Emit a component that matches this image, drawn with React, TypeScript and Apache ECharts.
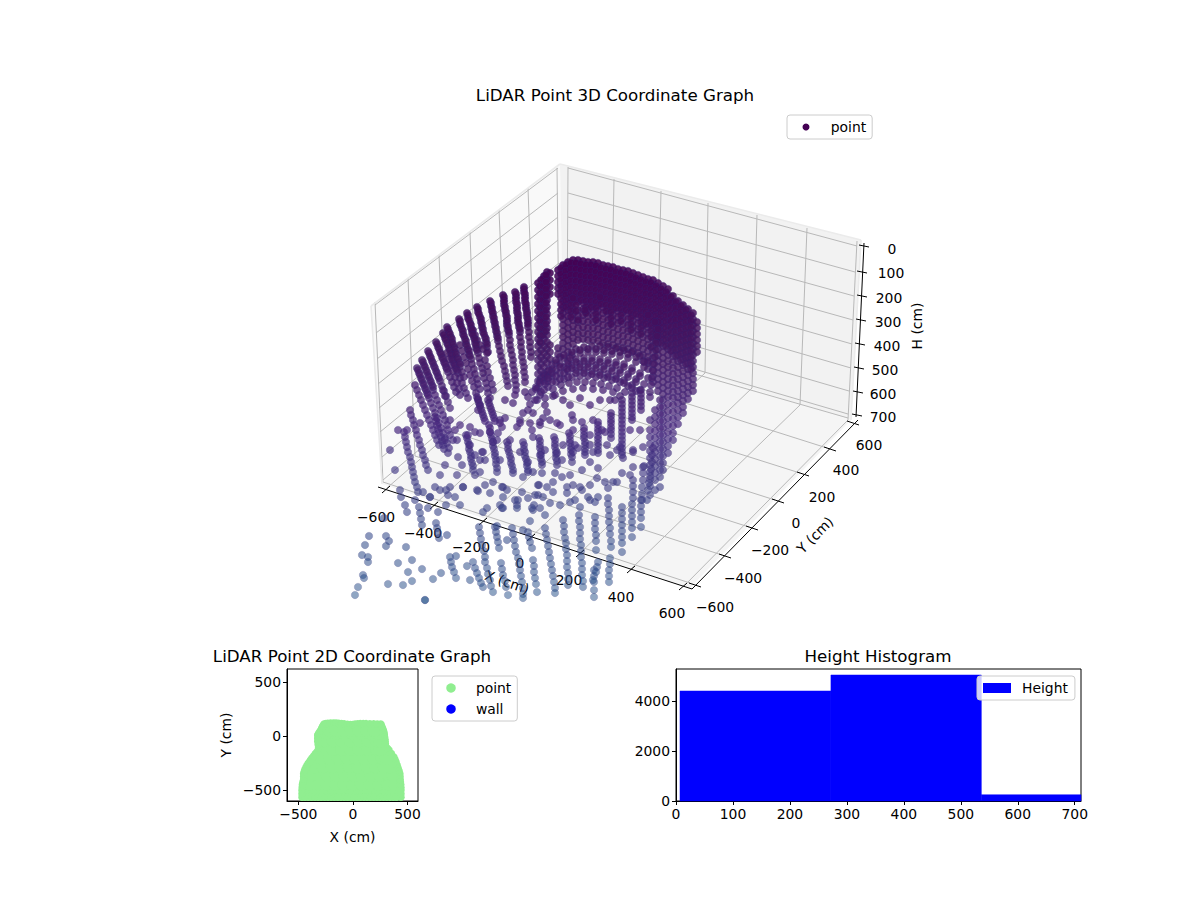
import { useEffect, useRef } from 'react';
import * as echarts from 'echarts';

// 3D panel: the picture is a projected view, so everything is kept in view coordinates
const leaningColumns: number[][] = [
  [417,368,419,373,421,378,423,383,425,388,427,393,429,398,431,403,433,408,435,413,437,418,439,423,441,428,443,433,445,438,447,443,449,448],
  [422,360,424,365,426,370,428,375,430,380,432,385,433,390,435,395,437,400,439,405,441,410,443,415,445,420,447,425,448,430,450,435],
  [415,385,417,390,419,395,421,400,423,405,425,410,427,415,429,420,431,425,433,430,435,435,437,440,439,445],
  [428,351,430,356,432,361,434,366,436,371,438,376,440,381,442,386,444,391,446,396],
  [436,342,438,347,440,352,442,357,444,362,446,367,448,372,450,377,452,382,454,387,456,392],
  [443,333,445,338,447,343,449,348,451,353,452,358,454,363,456,368,458,373,460,378,462,383,464,388,466,393,468,398],
  [447,327,449,332,451,337,452,342,454,347,455,352,457,357,459,362,460,367,462,372,464,377],
  [459,319,460,324,462,329,463,334,465,339,466,344,468,349,469,354,471,359,472,364,474,369,475,374,477,379,478,384,480,389],
  [467,313,468,318,470,323,471,328,472,333,474,338,475,343,476,348,478,353,479,358,480,363,482,368,483,373,484,378,486,383,487,388,488,393,490,398],
  [477,307,478,312,480,317,481,322,482,327,483,332,485,337,486,342,487,347,488,352],
  [490,301,491,306,492,311,493,316,494,321,495,326,496,331,497,336,498,341,499,346,500,351,501,356,502,361,504,366,505,371,506,376,507,381,508,386],
  [503,295,504,300,504,305,505,310,506,315,507,320,507,325,508,330,509,335,510,340,510,345,511,350,512,355,513,360,513,365,514,370,515,375,515,380,516,385,516,390],
  [515,292,516,297,516,302,517,307,517,312,518,317,518,322,519,327,520,332,520,337,521,342,521,347,522,352,522,357,523,362,524,367,524,372,525,377,525,382],
  [524,287,524,292,525,297,525,302,526,307,527,312,527,317,528,322,528,327,529,332,529,337,530,342,530,347,531,352,531,357],
  [485,360,487,366,488,372,490,378,492,384,493,390],
  [473,330,475,335,477,340,480,345,483,349,487,353],
  [447,353,449,359,451,365,453,371,455,377,457,383,459,389,460,395,443,390,445,396,448,402,450,408],
  [460,345,462,351,464,357,466,363,468,369,470,375,472,381,474,387,476,393,478,399,480,405],
  [404,432,405,437,406,442,407,447,408,452,410,457,411,462,412,467,413,472,414,477,415,482,417,487,418,492],
  [410,410,411,415,413,420,414,425,416,430,417,435,419,440,420,445,422,450,423,455,425,460,426,465,428,470],
  [435,417,436,421,437,425,438,429,439,433,441,437,442,441,443,445,444,449],
  [477,397,478,400,479,403,480,406,481,409,482,412,483,415,484,418,485,421],
  [488,400,489,403,490,406,491,409,492,412,493,415,494,418,495,421],
  [466,435,467,438,468,442,469,445,469,449,470,452,471,456,471,459,472,463,473,466,473,470],
  [489,425,490,428,490,432,491,435,492,439,493,442,493,446,494,449,495,453,495,456,496,460,496,464,497,468,497,472],
  [507,442,508,445,508,449,509,452,510,456,511,459,511,463,512,466,513,470,513,473],
  [523,442,524,445,524,449,525,452,525,456,526,459,527,463,527,466,528,470,528,472],
  [539,438,540,441,540,445,540,448,541,452,541,455,541,459,542,462,542,465],
  [554,437,555,440,555,444,555,447,556,451,556,454,556,458,557,461,557,465],
  [569,433,570,436,570,440,570,443,571,447,571,450,571,454,572,457,572,462],
  [584,428,584,431,584,435,584,438,585,442,585,445,585,449,585,452,585,455],
  [598,422,598,425,598,429,598,432,598,436,598,439,598,443,598,446,598,450,598,453],
  [611,413,611,416,611,420,611,423,611,427,611,430,611,434,611,438],
  [622,400,622,404,622,408,622,412,622,416,622,420,622,424,622,428,622,432,622,436,622,440,622,444,622,448,622,452,622,455],
  [632,393,632,397,632,401,632,405,632,409,632,413,632,417,632,420],
  [641,390,641,394,641,398,641,402,641,406,641,410],
  [419,507,420,513,421,519,422,525],
  [436,523,437,528,438,533,439,538],
  [479,527,480,533,481,539,482,545,484,551,485,557,485,562,487,568,488,574,490,580,491,586,493,592],
  [495,527,496,532,497,537,498,542,499,548],
  [512,528,513,534,514,540,515,546,516,552,518,558,519,564,520,570,521,576,522,582,523,588,523,594,523,598],
  [528,532,529,537,530,542,532,548],
  [533,560,534,566,534,572,535,578,536,584,537,592],
  [450,557,451,562,452,567,454,572,456,578],
  [473,562,475,568,477,573,479,578,481,583,483,587],
  [501,563,502,569,503,575,505,581,506,587,508,595],
  [545,528,546,534,547,540,548,546,549,552,550,558,551,564,552,570,553,576,554,582,555,588,555,593],
  [563,520,564,526,564,532,565,538],
  [566,543,566,549,567,555,567,561,567,567,568,573,568,579,568,585],
  [579,515,579,521,580,527,580,533,580,539,581,545,581,551,581,557,582,563,582,569,582,575,583,581,583,587],
  [595,517,595,523,595,529,596,535,596,541,596,550],
  [594,570,594,576,594,582,594,590,594,597],
  [608,498,608,504,609,510,609,516,609,522,610,528,610,534,611,541,611,547],
  [610,558,610,564,609,570,609,576,609,582],
  [622,507,622,513,622,519,622,525,622,531,622,537,622,543,622,552],
  [633,480,633,486,633,492,633,498,632,504,632,510,632,516,632,522,632,528,632,537],
  [641,500,641,506,641,512,641,518,641,527],
  [598,562,597,567,596,572,593,580],
  [653,448,652,455,652,462,651,469,650,476,649,483,648,490,647,500],
  [644,466,643,473,643,480,642,487,642,494,642,500],
  [658,322,658,329,657,336,656,343,656,350,655,357,654,364,653,371,652,378,651,385,650,392,650,397],
  // the denser upper stretch of the rim columns
  [418,370,420,375,422,380,424,385,426,390,428,395],
  [423,362,425,367,427,372,429,377,431,382,433,387],
  [429,353,431,358,433,363,435,368,437,373,439,378],
  [437,344,439,349,441,354,443,359,445,364,447,369],
  [444,335,446,340,448,345,450,350,452,355,453,360,455,365,457,370],
  [448,329,450,334,452,339,453,344,455,349,456,354,458,359,460,364],
  [460,321,461,326,463,331,464,336,466,341,467,346,469,351,470,356],
  [468,315,469,320,471,325,472,330,473,335,475,340,476,345,477,350],
  [478,309,479,314,481,319,482,324,483,329,484,334,486,339,487,344],
  [491,303,492,308,493,313,494,318,495,323,496,328,497,333,498,338],
  [504,297,504,302,505,307,506,312,507,317,507,322,508,327,509,332],
  [516,294,516,299,517,304,517,309,518,314,518,319,519,324,520,329],
  [524,289,525,294,525,299,526,304,526,309,527,314,528,319,528,324],
];

// near-vertical wall scans: the first number is x, the others are y
const wallColumns: number[][] = [
  [538,283,290,297,304,311,318,325,332,339,346,353,360,367,374,381,388],
  [541,280,287,294,301,308,315,322,329,336,343,350,357,364,371,378],
  [544,276,283,290,297,304,311,318,325,332,339,346,353,360,367,374],
  [547,272,279,286,293,300,307,314,321,328,335,342,349,356,363],
  [550,273,280,287,294,345,352,359],
  [558,270,276,282,288,294,348,354],
  [563,265,271,277,283,289,295,301,307,313,319,325,331,337,343,349],
  [568,262,268,274,280,286,292,298,304,310,316,322,328,334,340,346],
  [573,260,266,272,278,284,290,296,302,308,314,320,326,332,338,344],
  [578,260,266,272,278,284,290,296,302,310,316,322,328,334,340],
  [583,261,267,273,279,285,291,297,303,309,315,321,327,333,339],
  [588,262,268,274,280,286,292,298,304,310,316,322,328,334,340],
  [593,262,268,274,280,286,292,298,304,310,316,322,328,334,340],
  [598,263,269,275,281,287,293,299,305,311,317,323,329,335,341],
  [603,265,271,277,283,289,295,301,307,313,319,325,331,337,343],
  [608,266,272,278,284,290,296,302,308,314,320,326,332,338,344],
  [613,267,273,279,285,291,297,303,309,315,321,327,333,339,345],
  [618,269,275,281,287,293,299,305,311,317,323,329,335,341,347],
  [623,270,276,282,288,294,300,306,312,318,324,330,336,342,348],
  [628,271,277,283,289,295,301,307,313,319,325,331,337,343,349],
  [633,273,279,285,291,297,303,309,315,321,327,333,339,345,351],
  [638,275,281,287,293,299,305,311,317,323,329,335,341,347,353],
  [643,277,283,289,295,301,307,313,319,325,331,337,343,349,355,361],
  [648,279,285,291,297,303,309,315,321,327,333,339,345,351,357,363,369],
  [653,280,286,292,298,304,310,316,322,328,334,340,346,352,358,364,370,376,382],
  [658,283,289,295,301,307,313,319,325,331,337,343,349,355,361,367,373,379,385,391],
  [663,286,292,298,304,310,316,322,328,334,340,346,352,358,364,370,376,382,388,394,400,407,414,421,428,435,442,449,456,463,470],
  [668,289,295,301,307,313,319,325,331,337,343,349,355,361,367,373,379,385,391,397,404,411,418,425,432,439,446,453],
  [673,296,302,308,314,320,326,332,338,344,350,356,362,368,374,380,386,392,398,405,412,419,426,433,440],
  [678,301,307,313,319,325,331,337,343,349,355,361,367,373,379,385,391,397,403,410,417,424],
  [683,305,311,317,323,329,335,341,347,353,359,365,371,377,383,389,395,401,407,413],
  [688,309,315,321,327,333,339,345,351,357,363,369,375,381,387,393,399],
  [693,313,319,325,331,337,343,349,355,361,367,373,379,385,391],
  [697,322,328,334,340,346,352],
  [660,400,407,414,421,428,435,442,449,456,463,470,477,487],
  [655,410,417,424,431,438,445,452,459,466,473,480,490],
  [650,430,437,444,451,458,465,472,479,486,495],
  // second pass between the scans above
  [540,286,293,300,307,314,321,328,335,342],
  [543,279,286,293,300,307,314,321,328,335],
  [546,275,282,289,296,303,310,317,324,331],
  [561,268,274,280,286,292,298,304,310,316],
  [566,265,271,277,283,289,295,301,307],
  [571,263,269,275,281,287,293,299,305,311,317],
  [576,263,269,275,281,287,293,299,305,311],
  [581,264,270,276,282,288,294,300],
  [586,265,271,277,283,289,295,301,307,313],
  [591,265,271,277,283,289,295,301,307],
  [596,266,272,278,284,290,296,302,308,314,320],
  [601,268,274,280,286,292,298,304],
  [606,269,275,281,287,293,299,305,311],
  [611,270,276,282,288,294,300,306,312,318,324],
  [616,272,278,284,290,296,302,308],
  [621,273,279,285,291,297,303,309,315,321],
  [626,274,280,286,292,298,304,310],
  [631,276,282,288,294,300,306,312,318,324,330],
  [636,278,284,290,296,302,308,314],
  [641,280,286,292,298,304,310,316,322,328,334],
  [646,282,288,294,300,306,312,318,324],
  [651,283,289,295,301,307,313,319,325,331,337],
  [656,286,292,298,304,310,316,322,328,334,340],
  [661,289,295,301,307,313,319,325,331,337,343],
  [666,292,298,304,310,316,322,328,334,340,346],
  [671,297,303,309,315,321,327,333,339,345,351],
  [676,302,308,314,320,326,332,338,344,350,356],
  [681,306,312,318,324,330,336,342,348,354,360],
  [686,310,316,322,328,334,340,346,352,358,364],
  [691,315,321,327,333,339,345,351,357,363,369],
];

// the low hump in the middle of the room, one arc per list
const humpArcs: number[][] = [
  [545,375,552,365,560,357,568,352,576,349,584,347,592,346,600,346,608,347,616,348,624,350,632,352,640,356,648,361],
  [540,381,548,371,556,363,564,358,572,355,580,353,588,352,596,352,604,353,612,354,620,356,628,358,636,362,644,367],
  [536,387,544,377,552,369,560,364,568,361,576,359,584,358,592,358,600,359,608,360,616,362,624,364,632,368,640,373,648,378],
  [532,392,540,383,548,375,556,370,564,367,572,365,580,364,588,364,596,365,604,366,612,368,620,370,628,374,636,379,644,384],
  [528,397,536,389,544,381,552,376,560,373,568,371,576,370,584,370,592,371,600,372,608,374,616,376,624,380,632,385,640,390],
  [530,404,540,395,548,387,556,382,564,379,572,377,580,376,588,376,596,377,604,378,612,380,620,382,628,386,636,391],
  [545,398,553,389,561,385,569,383,577,382,585,382,593,383,601,384,609,386,617,388,625,392],
  [553,396,563,391,573,389,583,388,593,389,603,390,613,392,620,396],
  [549,370,556,360,564,355,572,352,580,350,588,349,596,349,604,350,612,351,620,352,628,354,636,357,644,362],
  [545,384,552,373,560,367,568,364,576,362,584,361,592,361,600,362,608,363,616,365,624,367,632,371,640,376],
  [541,392,548,381,556,376,564,373,572,368,580,367,588,367,596,368,604,369,612,371,620,373,628,377,636,382],
  [537,400,544,390,552,382,560,379,568,377,576,373,584,373,592,374,600,375,608,377,616,379,624,383,632,388],
];

const scatteredPoints: number[] = [
  407,512,384,518,369,536,386,536,389,541,386,546,365,545,406,547,362,555,368,557,368,562,398,563,412,560,408,572,422,569,441,573,433,579,
  412,581,403,585,388,584,363,575,364,578,358,587,355,595,425,600,425,600,350,571,447,535,456,556,467,566,470,580,
  401,497,428,508,438,512,446,505,460,505,483,512,497,526,507,540,523,530,530,521,502,508,517,505,533,510,534,505,
  450,420,470,427,475,432,460,425,453,440,448,453,458,457,445,465,440,475,457,475,463,487,477,490,485,485,493,482,503,487,522,492,
  435,487,450,487,440,490,448,495,430,497,423,492,482,452,493,442,505,418,523,413,513,403,502,427,517,427,480,433,498,433,530,423,
  500,460,485,460,480,460,480,472,475,475,533,437,528,462,533,472,523,477,
  532,430,540,425,543,418,533,413,550,420,560,425,547,412,563,400,572,415,582,422,593,420,602,430,573,430,
  607,445,610,455,620,447,623,458,633,450,643,447,633,467,643,467,613,482,605,482,598,468,597,478,590,485,582,490,573,485,567,487,562,477,
  570,475,555,473,542,473,538,485,553,482,547,487,553,492,538,495,562,460,582,470,590,462,622,473,630,475,608,488,567,493,543,497,
  505,400,515,395,525,392,535,400,545,405,555,395,570,405,580,398,590,405,600,400,610,400,520,420,528,410,590,435,575,445,500,420,540,422,
  557,423,573,420,648,315,655,322,651,347,570,358,567,369,548,378,585,310,578,320,573,298,600,297,
  478,410,490,432,470,445,462,465,475,455,455,430,445,440,510,440,545,450,563,445,578,448,590,445,605,432,615,400,630,430,640,430,650,420,
  500,505,515,500,545,515,560,505,575,500,590,500,395,470,400,490,390,450,398,430,405,505,415,500,
  430,497,446,490,455,497,463,487,478,491,490,493,502,487,507,490,503,497,518,500,528,498,535,495,539,485,570,502,580,507,595,502,617,482,580,487,
  598,497,588,497,540,508,487,508,503,508,517,508,532,508,550,503,407,430,420,423,457,440,468,435,483,452,497,440,520,452,540,455,557,453,573,452,
  593,452,617,450,633,452,500,423,520,423,
];

// 2D panel, in cm
const footprintEdge: number[] = [
  -467,-568,-440,-568,-410,-568,-380,-568,-350,-568,-320,-568,-290,-568,-260,-568,-230,-568,-200,-568,-170,-568,-140,-568,-110,-568,-80,-568,-50,-568,-20,-568,
  10,-568,40,-568,70,-568,100,-568,130,-568,160,-568,190,-568,220,-568,250,-568,280,-568,310,-568,340,-568,370,-568,400,-568,440,-568,
  -467,-535,-467,-503,-465,-475,-463,-450,-458,-425,-452,-400,-452,-375,-452,-349,-446,-330,-440,-310,-430,-290,-420,-270,-410,-255,-400,-240,-388,-222,-375,-205,-360,-185,-345,-165,
  -330,-148,-318,-130,-315,-108,-319,-80,-323,-50,-323,-22,-323,6,-317,18,-310,30,-300,45,-290,60,-285,72,-280,85,-272,98,-265,110,-248,115,-230,118,-204,120,-177,120,-154,120,-130,118,
  -105,115,-80,112,-52,108,-24,105,-2,107,20,110,44,112,67,114,94,114,120,114,155,113,190,112,222,111,255,110,260,98,265,85,270,72,275,60,280,45,285,30,288,10,290,-10,293,-30,295,-50,297,-73,300,-96,
  315,-113,330,-130,352,-162,375,-195,385,-218,395,-240,405,-270,415,-300,423,-325,430,-349,431,-375,432,-400,435,-425,438,-450,439,-475,440,-500,440,-535,
];
const footprintFill: number[] = [
  -410,-520,-330,-520,-250,-520,-170,-520,-90,-520,-10,-520,70,-520,150,-520,230,-520,310,-520,390,-520,
  -400,-440,-320,-440,-240,-440,-160,-440,-80,-440,0,-440,80,-440,160,-440,240,-440,320,-440,380,-440,
  -390,-360,-310,-360,-230,-360,-150,-360,-70,-360,10,-360,90,-360,170,-360,250,-360,330,-360,370,-360,
  -350,-280,-270,-280,-190,-280,-110,-280,-30,-280,50,-280,130,-280,210,-280,290,-280,340,-280,
  -290,-200,-210,-200,-130,-200,-50,-200,30,-200,110,-200,190,-200,270,-200,310,-200,
  -260,-120,-180,-120,-100,-120,-20,-120,60,-120,140,-120,220,-120,250,-120,
  -260,-40,-180,-40,-100,-40,-20,-40,60,-40,140,-40,220,-40,250,-40,
  -240,30,-160,30,-80,30,0,30,80,30,160,30,230,30,
  -210,55,-150,55,-80,55,-10,55,60,55,130,55,200,55,
];

// histogram
const histLeftEdges = [7, 272, 536];
const histRightEdges = [272, 536, 711];
const histCounts = [4400, 5040, 250];

const ticks2d = [-500, 0, 500];
const histXTicks = [0, 100, 200, 300, 400, 500, 600, 700];
const histYTicks = [0, 2000, 4000];

const xTickLabels = ['−600', '−400', '−200', '0', '200', '400', '600'];
const yTickLabels = ['−600', '−400', '−200', '0', '200', '400', '600'];
const hTickLabels = ['0', '100', '200', '300', '400', '500', '600', '700'];

// box of the 3D view
const xTickAt = [[385,490],[433,506],[482,522],[530,538],[579,554],[630,570],[682,587]];
const yTickAt = [[695,585],[725,556],[752,528],[778,501],[803,474],[830,449],[853,423]];
const hTickAt = [[864,246],[862,272],[862,296],[861,320],[860,344],[859,368],[858,392],[857,415]];
const xLabelAt = [[376,517],[423,533],[471,547],[520,563],[569,580],[621,597],[672,613]];
const yLabelAt = [[715,607],[743,578],[770,550],[796,523],[822,497],[846,470],[869,445]];
const hLabelAt = [[892,249],[891,273],[889,298],[888,322],[887,346],[885,370],[883,394],[883,417]];

const panes = [
  [371,306,560,164,563,330,382,484],
  [560,164,861,240,851,420,563,330],
  [382,484,563,330,851,420,690,588],
];
const paneColors = ['#f9f9f9', '#f2f2f2', '#f5f5f5'];
const paneEdges = [
  [371,306,560,164],[560,164,861,240],[371,306,382,484],[861,240,851,420],
];
const gridSegments = [
  // left wall verticals
  [375,302,383,482],[408,278,415,456],[439,255,446,430],[470,232,476,405],[499,210,506,380],[528,188,534,355],[557,168,559,335],
  // right wall verticals
  [568,167,567,331],[614,179,611,342],[661,191,657,358],[708,203,705,373],[757,215,752,388],[807,228,800,405],[857,241,848,420],
  // left wall levels
  [375,305,558,168],[376,333,558,193],[377,359,558,217],[378,384,558,240],[379,408,559,263],[380,432,559,286],[382,457,559,309],[383,480,559,332],
  // right wall levels
  [568,168,857,246],[568,193,855,272],[568,217,854,296],[568,240,853,320],[568,263,852,344],[568,286,851,368],[568,309,849,391],[568,332,848,414],
  // floor
  [567,331,387,488],[611,342,433,506],[657,358,482,522],[705,373,530,538],[752,388,579,554],[800,405,630,570],[848,420,685,585],
  [383,482,690,583],[415,456,722,555],[446,430,749,527],[476,405,775,500],[506,380,800,473],[534,355,827,448],[559,335,848,418],
];
const axisSegments = [
  [378,487,692,589],[692,589,858,420],[864,243,856,417],
  ...xTickAt.map(([x, y]) => [x - 3, y + 3, x + 5, y - 4]),
  ...yTickAt.map(([x, y]) => [x - 6, y - 2, x + 6, y + 2]),
  ...hTickAt.map(([x, y]) => [x - 5, y - 1, x + 5, y + 1]),
];

function pairs(flat: number[]) {
  const out: number[][] = [];
  for (let i = 0; i < flat.length; i += 2) out.push([flat[i], flat[i + 1]]);
  return out;
}

const roomPoints = [
  ...wallColumns.flatMap(([x, ...ys]) => ys.map((y) => [x, y])),
  ...humpArcs.flatMap(pairs),
  ...leaningColumns.flatMap(pairs),
  ...pairs(scatteredPoints),
];

const renderPane = (params: any, api: any) => {
  const points = [0, 1, 2, 3].map((i) => api.coord([api.value(i * 2), api.value(i * 2 + 1)]));
  return { type: 'polygon', shape: { points }, style: { fill: paneColors[params.dataIndex] } };
};

const segmentRenderer = (stroke: string, lineWidth: number) => (_params: any, api: any) => {
  const a = api.coord([api.value(0), api.value(1)]);
  const b = api.coord([api.value(2), api.value(3)]);
  return { type: 'line', shape: { x1: a[0], y1: a[1], x2: b[0], y2: b[1] }, style: { stroke, lineWidth } };
};

const renderBar = (_params: any, api: any) => {
  const a = api.coord([api.value(0), api.value(2)]);
  const b = api.coord([api.value(1), 0]);
  return {
    type: 'rect',
    shape: { x: a[0], y: a[1], width: b[0] - a[0], height: b[1] - a[1] },
    style: { fill: '#0000ff', stroke: '#0000ff', lineWidth: 0.5 },
  };
};

const FONT = 'DejaVu Sans';
const minusSign = (v: number) => String(v).replace('-', '−');

function tickTexts(labels: string[], at: number[][]) {
  return labels.map((text, i) => ({
    type: 'text',
    x: at[i][0],
    y: at[i][1],
    style: { text, fontSize: 13.9, fontFamily: FONT, fill: '#000', align: 'center', verticalAlign: 'middle' },
  }));
}

function plainAxis(gridIndex: number, min: number, max: number, ticks: number[], extra: object) {
  return {
    type: 'value',
    gridIndex,
    min,
    max,
    splitLine: { show: false },
    axisLine: { show: true, onZero: false, lineStyle: { color: '#000', width: 1 } },
    axisTick: { show: true, length: 4, customValues: ticks, lineStyle: { color: '#000', width: 1 } },
    axisLabel: { customValues: ticks, fontSize: 13.9, color: '#000', margin: 6, fontFamily: FONT, formatter: minusSign },
    ...extra,
  };
}

const legendBase = {
  orient: 'vertical',
  itemGap: 7,
  selectedMode: false,
  backgroundColor: 'rgba(255,255,255,0.8)',
  borderColor: '#cccccc',
  borderWidth: 1,
  borderRadius: 3,
  textStyle: { fontSize: 13.9, color: '#000', fontFamily: FONT, padding: [0, 0, 0, 6] },
};

const titleBase = { textAlign: 'center', padding: 0, textStyle: { fontSize: 16.7, fontWeight: 'normal', color: '#000', fontFamily: FONT } };

export default function App() {
  const elRef = useRef<HTMLDivElement | null>(null);

  useEffect(() => {
    if (!elRef.current) return;
    const chart = echarts.init(elRef.current, undefined, { renderer: 'svg' });
    chart.setOption({
      animation: false,
      textStyle: { fontFamily: FONT },
      title: [
        { ...titleBase, text: 'LiDAR Point 3D Coordinate Graph', left: 615, top: 86 },
        { ...titleBase, text: 'LiDAR Point 2D Coordinate Graph', left: 352, top: 647 },
        { ...titleBase, text: 'Height Histogram', left: 878, top: 647 },
      ],
      grid: [
        { left: 351, top: 0, width: 849, height: 900 },
        { left: 287, top: 669, width: 131, height: 132, show: true, borderColor: '#000', borderWidth: 1, backgroundColor: 'transparent' },
        { left: 676, top: 669, width: 405, height: 132, show: true, borderColor: '#000', borderWidth: 1, backgroundColor: 'transparent' },
      ],
      xAxis: [
        { type: 'value', gridIndex: 0, min: 351, max: 1200, show: false },
        plainAxis(1, -604, 596, ticks2d, { name: 'X (cm)', nameLocation: 'middle', nameGap: 29, nameTextStyle: { fontSize: 13.9, color: '#000', fontFamily: FONT } }),
        plainAxis(2, 0, 711, histXTicks, {}),
      ],
      yAxis: [
        { type: 'value', gridIndex: 0, min: 0, max: 900, inverse: true, show: false },
        plainAxis(1, -602, 620, ticks2d, { name: 'Y (cm)', nameLocation: 'middle', nameGap: 54, nameTextStyle: { fontSize: 13.9, color: '#000', fontFamily: FONT } }),
        plainAxis(2, 0, 5280, histYTicks, {}),
      ],
      legend: [
        {
          ...legendBase,
          left: 787,
          top: 115,
          padding: [5, 6, 5, 15.5],
          itemWidth: 27.5,
          itemHeight: 7,
          data: [{ name: 'point', icon: 'circle', itemStyle: { color: '#440154', opacity: 1, borderWidth: 0 } }],
        },
        {
          ...legendBase,
          left: 432,
          top: 676,
          padding: [5, 6, 5, 14.25],
          itemWidth: 27.75,
          itemHeight: 9.5,
          data: [
            { name: 'point', icon: 'circle', itemStyle: { color: '#90ee90', opacity: 1, borderWidth: 0 } },
            { name: 'wall', icon: 'circle', itemStyle: { color: '#0000ff', opacity: 1, borderWidth: 0 } },
          ],
        },
        {
          ...legendBase,
          left: 977,
          top: 676,
          padding: [5, 7, 5, 6],
          itemWidth: 28,
          itemHeight: 10,
          data: [{ name: 'Height', icon: 'rect', itemStyle: { color: '#0000ff', opacity: 1, borderWidth: 0 } }],
        },
      ],
      visualMap: {
        type: 'continuous',
        show: false,
        seriesIndex: 3,
        dimension: 1,
        min: 260,
        max: 600,
        inRange: {
          color: ['#440154', '#441560', '#4a2a80', '#3a4a8a', '#224f88'],
          opacity: [0.9, 0.5, 0.42, 0.42, 0.5],
        },
      },
      graphic: [
        ...tickTexts(xTickLabels, xLabelAt),
        ...tickTexts(yTickLabels, yLabelAt),
        ...tickTexts(hTickLabels, hLabelAt),
        { type: 'text', x: 507, y: 582, rotation: -0.33, style: { text: 'X (cm)', fontSize: 13.9, fontFamily: FONT, fill: '#000', align: 'center', verticalAlign: 'middle' } },
        { type: 'text', x: 815, y: 535, rotation: 0.79, style: { text: 'Y (cm)', fontSize: 13.9, fontFamily: FONT, fill: '#000', align: 'center', verticalAlign: 'middle' } },
        { type: 'text', x: 917, y: 326, rotation: Math.PI / 2, style: { text: 'H (cm)', fontSize: 13.9, fontFamily: FONT, fill: '#000', align: 'center', verticalAlign: 'middle' } },
      ],
      series: [
        { type: 'custom', xAxisIndex: 0, yAxisIndex: 0, z: 1, silent: true, renderItem: renderPane, data: panes },
        { type: 'custom', xAxisIndex: 0, yAxisIndex: 0, z: 1, silent: true, renderItem: segmentRenderer('#b8b8b8', 1), data: gridSegments },
        { type: 'custom', xAxisIndex: 0, yAxisIndex: 0, z: 1, silent: true, renderItem: segmentRenderer('#ebebeb', 1.6), data: paneEdges },
        {
          type: 'scatter',
          name: 'point',
          xAxisIndex: 0,
          yAxisIndex: 0,
          z: 3,
          symbolSize: 7.5,
          itemStyle: { borderColor: 'rgba(50,40,120,0.3)', borderWidth: 1 },
          data: roomPoints,
        },
        { type: 'custom', xAxisIndex: 0, yAxisIndex: 0, z: 1, silent: true, renderItem: segmentRenderer('#000000', 1), data: axisSegments },
        { type: 'scatter', name: 'point', xAxisIndex: 1, yAxisIndex: 1, symbolSize: 14, itemStyle: { color: '#90ee90', opacity: 1 }, data: pairs(footprintFill) },
        { type: 'scatter', name: 'point', xAxisIndex: 1, yAxisIndex: 1, symbolSize: 7.5, itemStyle: { color: '#90ee90', opacity: 1 }, data: pairs(footprintEdge) },
        { type: 'scatter', name: 'wall', xAxisIndex: 1, yAxisIndex: 1, itemStyle: { color: '#0000ff' }, data: [] },
        {
          type: 'custom',
          name: 'Height',
          xAxisIndex: 2,
          yAxisIndex: 2,
          renderItem: renderBar,
          encode: { x: [0, 1], y: 2 },
          itemStyle: { color: '#0000ff' },
          data: histCounts.map((count, i) => [histLeftEdges[i], histRightEdges[i], count]),
        },
      ],
    });
    return () => {
      chart.dispose();
    };
  }, []);

  return <div ref={elRef} style={{ position: 'absolute', left: 0, top: 0, width: 1200, height: 900 }} />;
}
